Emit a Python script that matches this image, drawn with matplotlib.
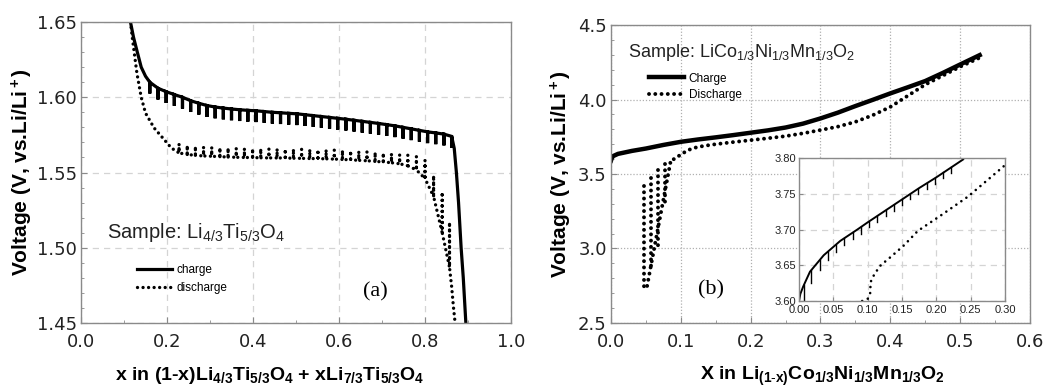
import numpy as np
import matplotlib
matplotlib.use("Agg")
import matplotlib.pyplot as plt
from matplotlib.ticker import MultipleLocator, FormatStrFormatter

plt.rcParams['font.family'] = ['Liberation Sans', 'DejaVu Sans']
plt.rcParams['mathtext.fontset'] = 'custom'
plt.rcParams['mathtext.rm'] = 'Liberation Sans'
plt.rcParams['mathtext.it'] = 'Liberation Sans:italic'
plt.rcParams['mathtext.bf'] = 'Liberation Sans:bold'

# ---------------- Panel (a) data: Li4/3Ti5/3O4 ----------------
a_charge_head_x = [0.115, 0.122, 0.13, 0.14, 0.15]
a_charge_head_v = [1.650, 1.640, 1.631, 1.620, 1.614]
a_charge_x = [0.160, 0.179, 0.198, 0.217, 0.236, 0.255, 0.274, 0.293, 0.312, 0.331,
              0.350, 0.369, 0.388, 0.407, 0.426, 0.445, 0.464, 0.483, 0.502, 0.521,
              0.540, 0.559, 0.578, 0.597, 0.616, 0.635, 0.654, 0.673, 0.692, 0.711,
              0.730, 0.749, 0.768, 0.787, 0.806, 0.825, 0.844, 0.862]
a_charge_v = [1.6100, 1.6060, 1.6037, 1.6018, 1.6000, 1.5977, 1.5960, 1.5945, 1.5935, 1.5928,
              1.5922, 1.5917, 1.5913, 1.5910, 1.5905, 1.5900, 1.5897, 1.5893, 1.5890, 1.5884,
              1.5878, 1.5872, 1.5866, 1.5860, 1.5854, 1.5847, 1.5840, 1.5833, 1.5826, 1.5818,
              1.5810, 1.5800, 1.5790, 1.5780, 1.5770, 1.5763, 1.5755, 1.5740]
a_charge_drop = 0.0075
a_charge_tail_x = [0.868, 0.873, 0.878, 0.884, 0.889, 0.895]
a_charge_tail_v = [1.566, 1.550, 1.530, 1.500, 1.480, 1.450]

a_dis_head_x = [0.115, 0.12, 0.13, 0.14, 0.15, 0.17, 0.19, 0.21]
a_dis_head_v = [1.650, 1.638, 1.616, 1.600, 1.5895, 1.5796, 1.573, 1.5663]
a_dis_x = [0.228, 0.247, 0.266, 0.285, 0.304, 0.323, 0.342, 0.361, 0.380, 0.399,
           0.418, 0.437, 0.456, 0.475, 0.494, 0.513, 0.532, 0.551, 0.570, 0.589,
           0.608, 0.627, 0.646, 0.665, 0.684, 0.703, 0.722, 0.741, 0.760, 0.780,
           0.800, 0.820, 0.840, 0.857]
a_dis_v = [1.5630, 1.5620, 1.5614, 1.5610, 1.5608, 1.5605, 1.5603, 1.5601, 1.5600, 1.5599,
           1.5598, 1.5597, 1.5597, 1.5596, 1.5595, 1.5594, 1.5593, 1.5592, 1.5591, 1.5589,
           1.5587, 1.5584, 1.5581, 1.5578, 1.5574, 1.5570, 1.5565, 1.5558, 1.5545, 1.5517,
           1.5460, 1.5340, 1.5100, 1.4870]
a_dis_rise = [0.006, 0.006, 0.006, 0.006, 0.006, 0.006, 0.006, 0.006, 0.006, 0.006,
              0.006, 0.006, 0.006, 0.006, 0.006, 0.006, 0.006, 0.006, 0.006, 0.006,
              0.006, 0.006, 0.006, 0.006, 0.006, 0.006, 0.006, 0.006, 0.007, 0.009,
              0.012, 0.014, 0.027, 0.030]
a_dis_tail_x = [0.862, 0.866, 0.870]
a_dis_tail_v = [1.474, 1.461, 1.450]

# ---------------- Panel (b) data: LiCo1/3Ni1/3Mn1/3O2 ----------------
b_charge_x = [0.0, 0.001, 0.003, 0.01, 0.02, 0.03, 0.05, 0.075, 0.10, 0.125,
              0.15, 0.175, 0.20, 0.225, 0.25, 0.275, 0.30, 0.325, 0.35, 0.375,
              0.40, 0.425, 0.45, 0.475, 0.50, 0.528]
b_charge_v = [3.590, 3.605, 3.620, 3.635, 3.645, 3.655, 3.671, 3.695, 3.716, 3.732,
              3.746, 3.761, 3.777, 3.793, 3.812, 3.838, 3.873, 3.912, 3.956, 3.998,
              4.041, 4.082, 4.124, 4.178, 4.235, 4.298]
b_dis_x = [0.526, 0.50, 0.475, 0.45, 0.425, 0.40, 0.375, 0.35, 0.325, 0.30,
           0.275, 0.25, 0.225, 0.20, 0.175, 0.15, 0.135, 0.123, 0.11, 0.10, 0.09, 0.085]
b_dis_v = [4.276, 4.220, 4.160, 4.100, 4.025, 3.950, 3.895, 3.850, 3.818, 3.795,
           3.773, 3.754, 3.740, 3.727, 3.714, 3.700, 3.690, 3.680, 3.660, 3.630, 3.600, 3.575]
b_col_x = [0.078, 0.067, 0.057, 0.047]
b_col_top = [3.57, 3.53, 3.47, 3.42]
b_col_bottom = [3.30, 3.00, 2.86, 2.71]

# inset data
i_charge_x = [0.0, 0.002, 0.006, 0.016, 0.036, 0.060, 0.085, 0.100, 0.125, 0.150,
              0.175, 0.200, 0.239]
i_charge_v = [3.600, 3.610, 3.620, 3.641, 3.664, 3.684, 3.700, 3.710, 3.726, 3.742,
              3.758, 3.773, 3.798]
i_teeth_x = [0.008, 0.018, 0.030, 0.042, 0.054, 0.066, 0.078, 0.090, 0.102, 0.114,
             0.126, 0.138, 0.150, 0.162, 0.174, 0.186, 0.198, 0.210, 0.222]
i_teeth_v = [3.622, 3.643, 3.657, 3.669, 3.679, 3.688, 3.696, 3.703, 3.711, 3.719,
             3.727, 3.734, 3.742, 3.750, 3.757, 3.765, 3.772, 3.780, 3.787]
i_teeth_len = [0.022, 0.018, 0.014, 0.012, 0.010, 0.010, 0.009, 0.009, 0.008, 0.008,
               0.008, 0.008, 0.008, 0.008, 0.008, 0.008, 0.008, 0.008, 0.008]
i_dis_x = [0.092, 0.100, 0.104, 0.104, 0.110, 0.119, 0.134, 0.153, 0.173, 0.207, 0.246, 0.300]
i_dis_v = [3.600, 3.603, 3.612, 3.626, 3.638, 3.650, 3.662, 3.678, 3.698, 3.720, 3.746, 3.790]

GRAY = '#8a8a8a'
TXT = '#222222'
DOTS = (0, (0.01, 1.65))

fig = plt.figure(figsize=(10.48, 3.89), dpi=100)
axa = fig.add_axes([0.0773, 0.1697, 0.4103, 0.7737])
axb = fig.add_axes([0.5830, 0.1697, 0.3998, 0.7660])
axi = fig.add_axes([0.7624, 0.2262, 0.1966, 0.3676])

def style(ax, fs, grid_ls, grid_col):
    for s in ax.spines.values():
        s.set_color(GRAY)
        s.set_linewidth(1.0)
    ax.tick_params(which='both', direction='in', colors=GRAY, labelcolor=TXT,
                   labelsize=fs)
    ax.tick_params(which='major', length=4)
    ax.tick_params(which='minor', length=2.5)
    ax.grid(True, which='major', linestyle=grid_ls, color=grid_col, linewidth=0.9)
    ax.set_axisbelow(True)

def fmt(ax, family):
    for lab in ax.get_xticklabels() + ax.get_yticklabels():
        lab.set_family(family)

# ---- panel a ----
style(axa, 13, (0, (5, 4)), '#d4d4d4')
axa.tick_params(axis='x', which='both', pad=7)
axa.tick_params(axis='y', which='both', pad=3)
cx = list(a_charge_head_x)
cv = list(a_charge_head_v)
for x, v in zip(a_charge_x, a_charge_v):
    cx += [x, x, x]
    cv += [v, v - a_charge_drop, v]
cx += a_charge_tail_x
cv += a_charge_tail_v
lc, = axa.plot(cx, cv, color='black', lw=2.3, solid_joinstyle='miter', label='charge')

dx = list(a_dis_head_x)
dv = list(a_dis_head_v)
for x, v, r in zip(a_dis_x, a_dis_v, a_dis_rise):
    dx += [x, x, x]
    dv += [v, v + r, v]
dx += a_dis_tail_x
dv += a_dis_tail_v
ld, = axa.plot(dx, dv, color='black', lw=2.4, linestyle=DOTS,
               dash_capstyle='round', label='discharge')

axa.set_xlim(0.0, 1.0)
axa.set_ylim(1.45, 1.65)
axa.xaxis.set_major_locator(MultipleLocator(0.2))
axa.xaxis.set_minor_locator(MultipleLocator(0.1))
axa.yaxis.set_major_locator(MultipleLocator(0.05))
axa.yaxis.set_minor_locator(MultipleLocator(0.01))
axa.xaxis.set_major_formatter(FormatStrFormatter('%.1f'))
axa.yaxis.set_major_formatter(FormatStrFormatter('%.2f'))
axa.set_ylabel(r'Voltage (V, vs.Li/Li$\mathbf{^+}$)', fontsize=15, fontweight='bold',
               labelpad=1)
axa.set_xlabel(r'x in (1-x)Li$_\mathbf{4/3}$Ti$_\mathbf{5/3}$O$_\mathbf{4}$ + '
               r'xLi$_\mathbf{7/3}$Ti$_\mathbf{5/3}$O$_\mathbf{4}$',
               fontsize=14, fontweight='bold', labelpad=12)
axa.xaxis.set_label_coords(0.44, -0.14)
axa.xaxis.label.set_va('top')
axa.text(0.06, 0.302, r'Sample: Li$_{4/3}$Ti$_{5/3}$O$_4$', transform=axa.transAxes,
         fontsize=14.5, va='center', ha='left', color=TXT)
axa.text(0.684, 0.103, '(a)', transform=axa.transAxes, fontsize=16,
         family='Liberation Serif', va='center', ha='center')
axa.legend(handles=[lc, ld], loc='upper left', bbox_to_anchor=(0.11, 0.222),
           frameon=False, fontsize=8.5, handlelength=3.0, handletextpad=0.4,
           labelspacing=0.45, borderpad=0.2)

# ---- panel b ----
style(axb, 13, (0, (1, 1.5)), '#b0b0b0')
axb.tick_params(axis='x', which='both', pad=7)
axb.tick_params(axis='y', which='both', pad=3)
lbc, = axb.plot(b_charge_x, b_charge_v, color='black', lw=3.2, label='Charge')
lbd, = axb.plot(b_dis_x, b_dis_v, color='black', lw=2.8, linestyle=(0, (0.01, 1.6)),
                dash_capstyle='round', label='Discharge')
for x, t, b in zip(b_col_x, b_col_top, b_col_bottom):
    axb.plot([x, x], [t, b], color='black', lw=2.8, linestyle=(0, (0.01, 1.6)),
             dash_capstyle='round')
axb.plot([b_dis_x[-1], b_col_x[-1] + 0.004], [b_dis_v[-1], b_col_bottom[-1] + 0.02],
         color='black', lw=2.8, linestyle=(0, (0.01, 1.6)), dash_capstyle='round')
axb.set_xlim(0.0, 0.6)
axb.set_ylim(2.5, 4.5)
axb.xaxis.set_major_locator(MultipleLocator(0.1))
axb.xaxis.set_minor_locator(MultipleLocator(0.05))
axb.yaxis.set_major_locator(MultipleLocator(0.5))
axb.yaxis.set_minor_locator(MultipleLocator(0.1))
axb.xaxis.set_major_formatter(FormatStrFormatter('%.1f'))
axb.yaxis.set_major_formatter(FormatStrFormatter('%.1f'))
axb.set_ylabel(r'Voltage (V, vs.Li/Li$\mathbf{^+}$)', fontsize=15, fontweight='bold',
               labelpad=3)
axb.set_xlabel(r'X in Li$_\mathbf{(1\text{-}x)}$Co$_\mathbf{1/3}$Ni$_\mathbf{1/3}$'
               r'Mn$_\mathbf{1/3}$O$_\mathbf{2}$',
               fontsize=14, fontweight='bold', labelpad=12)
axb.xaxis.set_label_coords(0.505, -0.14)
axb.xaxis.label.set_va('top')
axb.text(0.04, 0.909, r'Sample: LiCo$_{1/3}$Ni$_{1/3}$Mn$_{1/3}$O$_2$',
         transform=axb.transAxes, fontsize=13, va='center', ha='left', color=TXT)
axb.text(0.239, 0.111, '(b)', transform=axb.transAxes, fontsize=16,
         family='Liberation Serif', va='center', ha='center')
axb.legend(handles=[lbc, lbd], loc='upper left', bbox_to_anchor=(0.07, 0.868),
           frameon=False, fontsize=8.5, handlelength=3.0, handletextpad=0.4,
           labelspacing=0.35, borderpad=0.2)

# ---- inset ----
style(axi, 8, (0, (5, 4)), '#d4d4d4')
axi.set_facecolor('white')
axi.plot(i_charge_x, i_charge_v, color='black', lw=1.4)
for x, v, L in zip(i_teeth_x, i_teeth_v, i_teeth_len):
    axi.plot([x, x], [v, v - L], color='black', lw=1.0)
axi.plot(i_dis_x, i_dis_v, color='black', lw=1.9, linestyle=(0, (0.01, 2.3)),
         dash_capstyle='round')
axi.set_xlim(0.0, 0.30)
axi.set_ylim(3.60, 3.80)
axi.xaxis.set_major_locator(MultipleLocator(0.05))
axi.yaxis.set_major_locator(MultipleLocator(0.05))
axi.xaxis.set_major_formatter(FormatStrFormatter('%.2f'))
axi.yaxis.set_major_formatter(FormatStrFormatter('%.2f'))
axi.tick_params(which='major', length=3)
axi.tick_params(axis='x', pad=3)
axi.tick_params(axis='y', pad=2)

fig.canvas.draw()
fmt(axa, 'DejaVu Sans')
fmt(axb, 'DejaVu Sans')
fmt(axi, 'Liberation Sans')

fig.savefig('out.png', dpi=100)
